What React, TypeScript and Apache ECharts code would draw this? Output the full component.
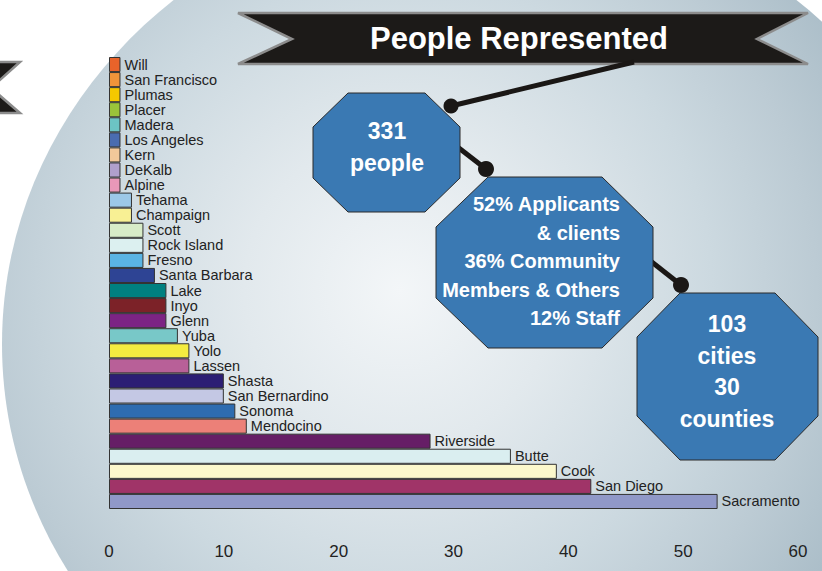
import React, { useEffect, useRef } from "react";
import * as echarts from "echarts";

const categories = [
  "Will", "San Francisco", "Plumas", "Placer", "Madera", "Los Angeles", "Kern", "DeKalb", "Alpine",
  "Tehama", "Champaign", "Scott", "Rock Island", "Fresno", "Santa Barbara", "Lake", "Inyo", "Glenn",
  "Yuba", "Yolo", "Lassen", "Shasta", "San Bernardino", "Sonoma", "Mendocino", "Riverside", "Butte",
  "Cook", "San Diego", "Sacramento",
];
const values = [
  1, 1, 1, 1, 1, 1, 1, 1, 1,
  2, 2, 3, 3, 3, 4, 5, 5, 5,
  6, 7, 7, 10, 10, 11, 12, 28, 35,
  39, 42, 53,
];
const barColors = [
  "#e8632a", "#f0943a", "#f5c800", "#9ac43a", "#6cc4c4", "#4a6cb0", "#f2c89a", "#b0a0cc", "#e898b8",
  "#9cc8e8", "#f8f094", "#d8ecc8", "#dcf0f0", "#5ab4e4", "#2e4494", "#008080", "#7c2228", "#7c2484",
  "#78c8c8", "#f4ec40", "#b86098", "#2c1e74", "#c4c8e4", "#2e6cb0", "#ec8078", "#661e66", "#daeef0",
  "#fcf8cc", "#a03468", "#9098c8",
];
const titleText = "People Represented";
const box1Lines = ["331", "people"];
const box2Lines = ["52% Applicants", "& clients", "36% Community", "Members & Others", "12% Staff"];
const box3Lines = ["103", "cities", "30", "counties"];

const FONT = "'Liberation Sans', Arial, sans-serif";

export default function App() {
  const ref = useRef<HTMLDivElement>(null);
  useEffect(() => {
    if (!ref.current) return;
    const chart = echarts.init(ref.current, null, { renderer: "svg" });

    const octFill = "#3a79b3";
    const octStroke = "#2a2a2a";
    const txt = (t: string, x: number, y: number, size: number, align: string) => ({
      type: "text",
      z: 120,
      style: {
        text: t,
        x,
        y,
        fill: "#ffffff",
        font: `bold ${size}px ${FONT}`,
        textAlign: align,
        textVerticalAlign: "middle",
      },
    });

    const graphics: any[] = [
      {
        type: "ellipse",
        z: -100,
        silent: true,
        shape: { cx: 485, cy: 344, rx: 483, ry: 450 },
        style: {
          fill: new echarts.graphic.RadialGradient(400, 290, 520, [
            { offset: 0, color: "#f3f6f8" },
            { offset: 0.3, color: "#e2e9ed" },
            { offset: 0.6, color: "#ccd9e0" },
            { offset: 0.8, color: "#bccbd4" },
            { offset: 1, color: "#a9bcc7" },
          ], true),
        },
      },
      // left partial banner
      {
        type: "polygon",
        z: 50,
        shape: { points: [[-400, 62], [20, 62], [-9, 88], [20, 113], [-400, 113]] },
        style: { fill: "#1c1a18", stroke: "#8c8c8c", lineWidth: 2.5 },
      },
      // main banner
      {
        type: "polygon",
        z: 50,
        shape: {
          points: [[238, 13], [808, 13], [757, 39], [808, 64], [238, 64], [292, 39]],
        },
        style: { fill: "#1c1a18", stroke: "#8c8c8c", lineWidth: 2.5 },
      },
      txt(titleText, 519, 38, 31, "center"),
      // connectors
      { type: "line", z: 60, shape: { x1: 634, y1: 62, x2: 451, y2: 106 }, style: { stroke: "#1a1715", lineWidth: 5 } },
      { type: "circle", z: 61, shape: { cx: 451, cy: 106, r: 7.5 }, style: { fill: "#1a1715" } },
      { type: "line", z: 60, shape: { x1: 455, y1: 145, x2: 486, y2: 169 }, style: { stroke: "#1a1715", lineWidth: 5 } },
      { type: "circle", z: 61, shape: { cx: 486, cy: 169, r: 8 }, style: { fill: "#1a1715" } },
      { type: "line", z: 60, shape: { x1: 648, y1: 259, x2: 681, y2: 285 }, style: { stroke: "#1a1715", lineWidth: 5 } },
      { type: "circle", z: 61, shape: { cx: 681, cy: 285, r: 8 }, style: { fill: "#1a1715" } },
      // octagons
      {
        type: "polygon",
        z: 100,
        shape: { points: [[348, 93], [425, 93], [460, 127], [460, 178], [425, 212], [348, 212], [313, 178], [313, 127]] },
        style: { fill: octFill, stroke: octStroke, lineWidth: 1 },
      },
      {
        type: "polygon",
        z: 100,
        shape: { points: [[488, 177], [602, 177], [653, 227], [653, 298], [602, 348], [488, 348], [436, 298], [436, 227]] },
        style: { fill: octFill, stroke: octStroke, lineWidth: 1 },
      },
      {
        type: "polygon",
        z: 100,
        shape: { points: [[680, 293], [775, 293], [818, 337], [818, 416], [775, 460], [680, 460], [637, 416], [637, 337]] },
        style: { fill: octFill, stroke: octStroke, lineWidth: 1 },
      },
    ];
    box1Lines.forEach((t, i) => graphics.push(txt(t, 387, 131 + i * 32, 23, "center")));
    box2Lines.forEach((t, i) => graphics.push(txt(t, 620, 204 + i * 28.5, 20, "right")));
    box3Lines.forEach((t, i) => graphics.push(txt(t, 727, 324 + i * 31.5, 23, "center")));

    chart.setOption({
      animation: false,
      backgroundColor: "#ffffff",
      grid: { left: 109, right: 24, top: 57, bottom: 62, containLabel: false },
      xAxis: {
        type: "value",
        min: 0,
        max: 60,
        interval: 10,
        axisLine: { show: false },
        axisTick: { show: false },
        splitLine: { show: false },
        axisLabel: { color: "#222", fontSize: 17, fontFamily: FONT, margin: 34 },
      },
      yAxis: {
        type: "category",
        inverse: true,
        data: categories,
        axisLine: { show: false },
        axisTick: { show: false },
        axisLabel: { show: false },
        splitLine: { show: false },
      },
      series: [
        {
          type: "bar",
          barCategoryGap: "0%",
          data: values.map((v, i) => ({
            value: v,
            itemStyle: { color: barColors[i] },
            label: { formatter: categories[i] },
          })),
          itemStyle: { borderColor: "#333", borderWidth: 1 },
          label: {
            show: true,
            position: "right",
            distance: 4,
            color: "#222",
            fontSize: 14.5,
            fontFamily: FONT,
          },
        },
      ],
      graphic: graphics,
    });
    return () => chart.dispose();
  }, []);

  return (
    <div
      ref={ref}
      style={{ position: "fixed", left: 0, top: 0, width: 822, height: 571 }}
    />
  );
}
